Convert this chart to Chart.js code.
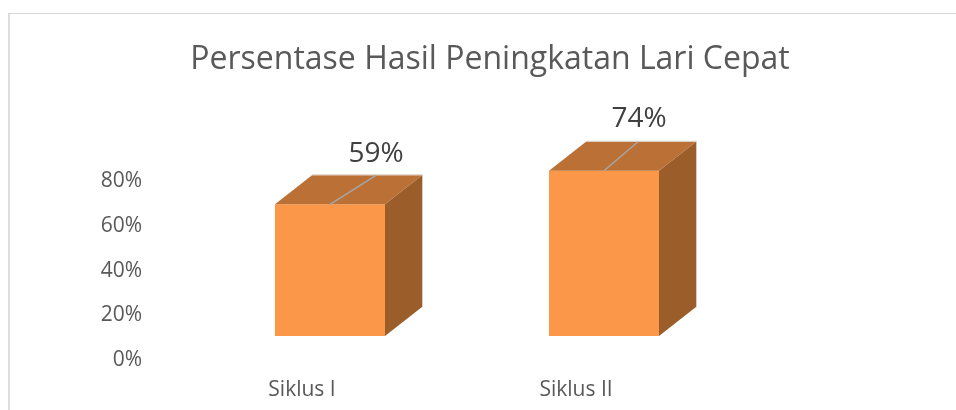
<!DOCTYPE html>
<html>
<head>
<meta charset="utf-8">
<style>
  html, body { margin: 0; padding: 0; background: #fff; overflow: hidden; }
  #wrap { position: relative; width: 956px; height: 410px; }
  #frame { position: absolute; left: 8px; top: 13px; right: 0; bottom: 0;
           border-top: 1px solid #d6d6d6; border-left: 2px solid #dedede; }
  canvas { position: absolute; left: 0; top: 0; }
</style>
</head>
<body>
<div id="wrap">
  <div id="frame"></div>
  <canvas id="chart" width="956" height="410"></canvas>
</div>
<script src="https://cdn.jsdelivr.net/npm/chart.js@4"></script>
<script>
const chartTitle = "Persentase Hasil Peningkatan Lari Cepat";
const categories = ["Siklus I", "Siklus II"];
const values = [59, 74];
const maxValue = 80;
const tickStep = 20;

const fontName = "'Open Sans', sans-serif";

// Depth of the fake 3D box
const depthX = 37;
const depthY = 29;
// Where each label sits, measured from the top of the front face
const labelShiftX = [46, 35];
const labelShiftY = [50, 52];
const leaderEndX = [46, 34];

// Draw top and side of each box, then the leader line and value label
const boxFaces = {
    id: "boxFaces",
    afterDatasetsDraw(chart) {
        const ctx = chart.ctx;
        chart.getDatasetMeta(0).data.forEach((bar, i) => {
            const left = bar.x - bar.width / 2;
            const right = bar.x + bar.width / 2;
            const top = bar.y;
            const bottom = bar.base;

            ctx.save();
            ctx.fillStyle = "#BB7135";
            ctx.beginPath();
            ctx.moveTo(left, top);
            ctx.lineTo(left + depthX, top - depthY);
            ctx.lineTo(right + depthX, top - depthY);
            ctx.lineTo(right, top);
            ctx.closePath();
            ctx.fill();

            ctx.fillStyle = "#9B5E2B";
            ctx.beginPath();
            ctx.moveTo(right, top);
            ctx.lineTo(right + depthX, top - depthY);
            ctx.lineTo(right + depthX, bottom - depthY);
            ctx.lineTo(right, bottom);
            ctx.closePath();
            ctx.fill();

            // thin light edge along the back of the box
            ctx.strokeStyle = "#D8CCBF";
            ctx.lineWidth = 1;
            ctx.beginPath();
            ctx.moveTo(left + depthX, top - depthY - 0.5);
            ctx.lineTo(right + depthX + 0.5, top - depthY - 0.5);
            ctx.lineTo(right + depthX + 0.5, bottom - depthY);
            ctx.stroke();

            ctx.strokeStyle = "#A6A6A6";
            ctx.lineWidth = 1.5;
            ctx.beginPath();
            ctx.moveTo(bar.x, top);
            ctx.lineTo(bar.x + leaderEndX[i], top - depthY);
            ctx.stroke();

            ctx.fillStyle = "#404040";
            ctx.font = "28px " + fontName;
            ctx.textAlign = "center";
            ctx.textBaseline = "middle";
            ctx.fillText(values[i] + "%", bar.x + labelShiftX[i], top - labelShiftY[i]);
            ctx.restore();
        });
    }
};

new Chart(document.getElementById("chart").getContext("2d"), {
    type: "bar",
    data: {
        labels: categories,
        datasets: [{
            data: values,
            backgroundColor: "#FA9748",
            borderWidth: 0,
            categoryPercentage: 1,
            barPercentage: 0.4015
        }]
    },
    options: {
        responsive: false,
        animation: false,
        layout: { padding: { left: 24, right: 0, top: 0, bottom: 0 } },
        plugins: {
            legend: { display: false },
            tooltip: { enabled: false },
            title: {
                display: true,
                text: chartTitle,
                color: "#595959",
                font: { family: fontName, size: 32, weight: "normal", lineHeight: 1.2 },
                padding: { top: 41, bottom: 78 }
            }
        },
        scales: {
            x: {
                grid: { display: false },
                border: { display: false },
                ticks: {
                    color: "#595959",
                    font: { family: fontName, size: 21 },
                    labelOffset: -28,
                    padding: 33,
                    maxRotation: 0
                },
                afterFit(scale) { scale.height = 74; }
            },
            y: {
                min: 0,
                max: maxValue,
                grid: { display: false, drawTicks: false },
                border: { display: false },
                ticks: {
                    stepSize: tickStep,
                    color: "#595959",
                    font: { family: fontName, size: 21 },
                    padding: 51,
                    labelOffset: 24,
                    callback: v => v + "%"
                },
                afterFit(scale) { scale.width = 169; }
            },
            // empty axis, only keeps the plot clear of the right side
            spacer: {
                position: "right",
                display: true,
                grid: { display: false },
                border: { display: false },
                ticks: { display: false },
                afterFit(scale) { scale.width = 215; }
            }
        }
    },
    plugins: [boxFaces]
});
</script>
</body>
</html>
